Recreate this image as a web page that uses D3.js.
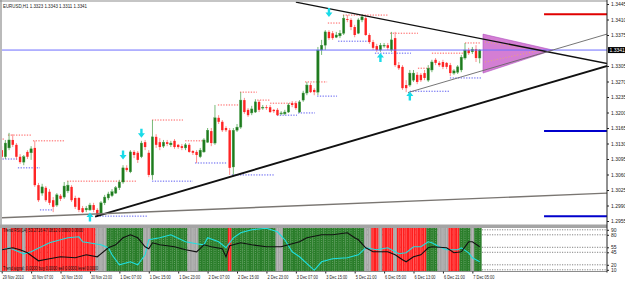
<!DOCTYPE html>
<html>
<head>
<meta charset="utf-8">
<script src="https://cdn.jsdelivr.net/npm/d3@7/dist/d3.min.js"></script>
<style>
  body { margin: 0; background: #fff; }
  svg { display: block; font-family: "Liberation Sans", Arial, sans-serif; }
</style>
</head>
<body>
<svg id="chart" width="625" height="282"></svg>
<script>
// EURUSD H1, bar 0 = 29 Nov 2010 23:00, last bar = 7 Dec 07:00
var opens = [
  1.3115, 1.3100, 1.3120, 1.3138, 1.3127, 1.3100, 1.3088, 1.3111, 1.3109, 1.3120,
  1.3036, 1.3018, 1.3030, 1.3021, 1.3002, 1.2991, 1.3012, 1.3009, 1.3023, 1.3032,
  1.3007, 1.3007, 1.2984, 1.2980, 1.2980, 1.2991, 1.2980, 1.2973, 1.2996, 1.3007,
  1.3012, 1.3018, 1.3030, 1.3043, 1.3075, 1.3066, 1.3111, 1.3109, 1.3100, 1.3133,
  1.3109, 1.3059, 1.3145, 1.3133, 1.3124, 1.3133, 1.3127, 1.3136, 1.3127, 1.3124,
  1.3120, 1.3127, 1.3113, 1.3111, 1.3100, 1.3111, 1.3133, 1.3158, 1.3131, 1.3188,
  1.3179, 1.3165, 1.3160, 1.3077, 1.3160, 1.3167, 1.3228, 1.3206, 1.3199, 1.3201,
  1.3224, 1.3210, 1.3212, 1.3212, 1.3206, 1.3206, 1.3197, 1.3197, 1.3201, 1.3221,
  1.3221, 1.3201, 1.3228, 1.3244, 1.3262, 1.3251, 1.3246, 1.3341, 1.3352, 1.3382,
  1.3379, 1.3370, 1.3373, 1.3379, 1.3411, 1.3409, 1.3393, 1.3379, 1.3409, 1.3413,
  1.3375, 1.3359, 1.3350, 1.3341, 1.3350, 1.3352, 1.3341, 1.3368, 1.3307, 1.3303,
  1.3262, 1.3262, 1.3273, 1.3285, 1.3285, 1.3289, 1.3273, 1.3296, 1.3319, 1.3312,
  1.3314, 1.3312, 1.3307, 1.3289, 1.3291, 1.3296, 1.3323, 1.3341, 1.3337, 1.3343, 1.3323
];
var highs = [
  1.3124, 1.3138, 1.3154, 1.3151, 1.3131, 1.3106, 1.3104, 1.3115, 1.3124, 1.3136,
  1.3041, 1.3039, 1.3034, 1.3027, 1.3009, 1.3018, 1.3016, 1.3043, 1.3045, 1.3036,
  1.3012, 1.3009, 1.2989, 1.2989, 1.2996, 1.2996, 1.2984, 1.3000, 1.3014, 1.3021,
  1.3027, 1.3034, 1.3048, 1.3081, 1.3081, 1.3115, 1.3115, 1.3113, 1.3136, 1.3138,
  1.3115, 1.3183, 1.3151, 1.3142, 1.3138, 1.3138, 1.3136, 1.3140, 1.3129, 1.3129,
  1.3131, 1.3131, 1.3115, 1.3115, 1.3120, 1.3142, 1.3165, 1.3165, 1.3217, 1.3194,
  1.3183, 1.3169, 1.3165, 1.3165, 1.3174, 1.3246, 1.3233, 1.3210, 1.3215, 1.3230,
  1.3228, 1.3217, 1.3217, 1.3217, 1.3208, 1.3210, 1.3203, 1.3206, 1.3221, 1.3226,
  1.3226, 1.3228, 1.3249, 1.3269, 1.3267, 1.3255, 1.3348, 1.3364, 1.3386, 1.3386,
  1.3384, 1.3382, 1.3386, 1.3420, 1.3420, 1.3413, 1.3398, 1.3413, 1.3422, 1.3420,
  1.3379, 1.3364, 1.3355, 1.3357, 1.3357, 1.3357, 1.3382, 1.3382, 1.3314, 1.3307,
  1.3273, 1.3296, 1.3296, 1.3291, 1.3289, 1.3296, 1.3307, 1.3319, 1.3323, 1.3316,
  1.3319, 1.3314, 1.3312, 1.3298, 1.3307, 1.3330, 1.3357, 1.3346, 1.3348, 1.3352, 1.3343
];
var lows = [
  1.3093, 1.3095, 1.3115, 1.3122, 1.3093, 1.3084, 1.3081, 1.3095, 1.3093, 1.3032,
  1.2998, 1.3012, 1.2998, 1.2991, 1.2975, 1.2987, 1.3000, 1.3005, 1.3018, 1.2998,
  1.2982, 1.2975, 1.2973, 1.2975, 1.2978, 1.2975, 1.2964, 1.2971, 1.2991, 1.3002,
  1.3009, 1.3016, 1.3025, 1.3039, 1.3066, 1.3063, 1.3097, 1.3086, 1.3097, 1.3115,
  1.3054, 1.3048, 1.3120, 1.3115, 1.3120, 1.3124, 1.3122, 1.3118, 1.3118, 1.3115,
  1.3115, 1.3109, 1.3104, 1.3086, 1.3097, 1.3109, 1.3131, 1.3124, 1.3127, 1.3174,
  1.3156, 1.3156, 1.3059, 1.3059, 1.3156, 1.3163, 1.3197, 1.3190, 1.3194, 1.3199,
  1.3201, 1.3206, 1.3206, 1.3199, 1.3199, 1.3192, 1.3194, 1.3194, 1.3199, 1.3212,
  1.3206, 1.3199, 1.3224, 1.3239, 1.3244, 1.3239, 1.3239, 1.3330, 1.3341, 1.3364,
  1.3364, 1.3368, 1.3368, 1.3375, 1.3404, 1.3386, 1.3370, 1.3377, 1.3404, 1.3373,
  1.3355, 1.3341, 1.3337, 1.3337, 1.3346, 1.3341, 1.3337, 1.3303, 1.3296, 1.3251,
  1.3246, 1.3258, 1.3269, 1.3264, 1.3269, 1.3273, 1.3269, 1.3291, 1.3307, 1.3303,
  1.3298, 1.3298, 1.3282, 1.3285, 1.3287, 1.3291, 1.3319, 1.3330, 1.3332, 1.3314, 1.3311
];
var closes = [
  1.3100, 1.3131, 1.3138, 1.3127, 1.3100, 1.3088, 1.3100, 1.3100, 1.3118, 1.3036,
  1.3002, 1.3032, 1.3002, 1.2996, 1.2987, 1.3014, 1.3005, 1.3034, 1.3036, 1.3002,
  1.2987, 1.2980, 1.2975, 1.2984, 1.2991, 1.2980, 1.2969, 1.2996, 1.3009, 1.3016,
  1.3021, 1.3030, 1.3043, 1.3075, 1.3070, 1.3111, 1.3104, 1.3093, 1.3131, 1.3122,
  1.3059, 1.3145, 1.3127, 1.3122, 1.3133, 1.3129, 1.3131, 1.3122, 1.3122, 1.3120,
  1.3127, 1.3111, 1.3109, 1.3104, 1.3115, 1.3138, 1.3160, 1.3131, 1.3188, 1.3179,
  1.3160, 1.3160, 1.3075, 1.3160, 1.3167, 1.3228, 1.3201, 1.3194, 1.3208, 1.3224,
  1.3206, 1.3212, 1.3210, 1.3201, 1.3203, 1.3194, 1.3199, 1.3201, 1.3217, 1.3217,
  1.3210, 1.3224, 1.3244, 1.3262, 1.3246, 1.3246, 1.3341, 1.3352, 1.3382, 1.3368,
  1.3368, 1.3375, 1.3379, 1.3413, 1.3409, 1.3393, 1.3375, 1.3409, 1.3416, 1.3375,
  1.3359, 1.3346, 1.3341, 1.3352, 1.3352, 1.3346, 1.3364, 1.3307, 1.3300, 1.3255,
  1.3255, 1.3289, 1.3289, 1.3269, 1.3273, 1.3278, 1.3300, 1.3314, 1.3312, 1.3307,
  1.3303, 1.3303, 1.3289, 1.3294, 1.3303, 1.3325, 1.3341, 1.3334, 1.3343, 1.3323, 1.3341
];

var priceTicks = [1.3445, 1.3410, 1.3375, 1.3305, 1.3270, 1.3235, 1.3200, 1.3165,
                  1.3130, 1.3095, 1.3060, 1.3025, 1.2990, 1.2955];
var bidPrice = 1.3341;
var timeLabels = ["29 Nov 2010", "30 Nov 07:00", "30 Nov 15:00", "30 Nov 23:00", "1 Dec 07:00",
  "1 Dec 15:00", "1 Dec 23:00", "2 Dec 07:00", "2 Dec 15:00", "2 Dec 23:00", "3 Dec 07:00",
  "3 Dec 15:00", "5 Dec 21:00", "6 Dec 05:00", "6 Dec 13:00", "6 Dec 21:00", "7 Dec 05:00"];
var timeLabelBars = d3.range(0, 129, 8);

// fractal resistance / support marks: [fromBar, toBar, price]
var resistLevels = [[-0.5, 0.9, 1.3140], [1.7, 8.2, 1.3149], [8.5, 17.2, 1.3136], [17.8, 36.8, 1.3045],
  [40.9, 49.3, 1.3183], [49.9, 55.3, 1.3136], [58.8, 64.3, 1.3217], [64.8, 69.4, 1.3246],
  [69.5, 73, 1.3228], [73, 80.3, 1.3221], [82.5, 88.5, 1.3269], [88.7, 92, 1.3402],
  [92.8, 105, 1.3420], [105.6, 113.2, 1.3379], [113.2, 116.5, 1.3300], [117, 126.5, 1.3334],
  [126, 130.4, 1.3357]];
var supportLevels = [[-0.5, 4.2, 1.3095], [4.4, 10.4, 1.3075], [10.4, 13.7, 1.2980],
  [25.9, 39.8, 1.2966], [40.9, 52, 1.3045], [52.6, 61.3, 1.3086], [62.6, 74.3, 1.3059],
  [74.9, 80.3, 1.3194], [80.6, 85.2, 1.3199], [85.8, 91.2, 1.3237], [91.5, 100.2, 1.3361],
  [101.5, 111.3, 1.3334], [111, 121.9, 1.3248], [121.9, 130.4, 1.3278]];

// trend lines: [bar, price] anchors
var trendLines = [
  {a: [80, 1.3449], b: [165, 1.3310], color: "#111", w: 1.3},
  {a: [25.4, 1.2965], b: [165, 1.3306], color: "#111", w: 1.9},
  {a: [-0.5, 1.2962], b: [165, 1.3018], color: "#7a7672", w: 1.4},
  {a: [110.5, 1.3245], b: [165, 1.3378], color: "#666", w: 0.9}
];
var triangle = [[130.9, 1.3377], [149.9, 1.3341], [130.9, 1.3289]];
var hLevels = [
  {from: 147.5, price: 1.3422, color: "#e00000"},
  {from: 147.5, price: 1.3158, color: "#0000cc"},
  {from: 147.5, price: 1.2966, color: "#0000cc"}
];
var arrows = [
  {bar: 24, price: 1.2964, dir: "up"}, {bar: 33, price: 1.3104, dir: "down"},
  {bar: 38, price: 1.3153, dir: "down"}, {bar: 89, price: 1.3426, dir: "down"},
  {bar: 103, price: 1.3324, dir: "up"}, {bar: 111, price: 1.3237, dir: "up"}
];

// indicator window
var trendState = ["rr", "n", "rrr", "n", "rrrrrrrrrrrrrrrrrrr", "nnn", "gggggggggg", "nn",
  "gggggggggg", "nnn", "gggggggg", "r", "gggggggggggg", "nn", "gggggggggggggggggggggg", "nn",
  "rr", "n", "rrr", "n", "rrrrrrrr", "ggg", "nnn", "rrr", "ggg", "n", "gg"].join("");
var indLevels = [90, 80, 55, 45, 20, 10];
var cyanLine = [[0,50],[2,54],[6,42],[8,46],[13,64],[18,74],[21,76],[22,66],[27,60],[29,54],
  [30,40],[32,20],[35,26],[37,20],[39,40],[40,70],[43,74],[46,80],[50,66],[53,62],[55,60],
  [56,74],[59,66],[61,54],[63,74],[65,84],[68,90],[72,93],[75,86],[77,70],[79,46],[81,36],
  [85,9],[87,26],[90,32],[94,34],[97,40],[99,54],[102,50],[105,54],[108,42],[110,44],
  [112,56],[114,56],[116,66],[117,64],[119,56],[121,50],[124,50],[125,54],[127,44],[128,34],[130,26]];
var blackLine = [[0,50],[3,54],[5,50],[7,44],[10,28],[13,32],[16,36],[20,34],[23,40],[26,36],
  [29,54],[31,60],[33,74],[35,80],[37,74],[39,56],[40,52],[41,64],[43,60],[47,56],[50,50],
  [53,46],[55,60],[57,56],[60,52],[61,36],[62,58],[65,64],[68,60],[72,56],[76,56],[78,60],
  [81,66],[83,74],[87,80],[90,80],[94,84],[96,74],[97,70],[99,54],[101,46],[105,46],[107,40],
  [109,30],[110,26],[112,36],[114,40],[116,54],[117,56],[121,54],[123,44],[125,46],[127,66],
  [128,66],[130,56]];

var svg = d3.select("#chart");
var width = 625, height = 282;
var plotLeft = 2, plotRight = 607;
var mainTop = 1.5, mainBottom = 224.5;
var indTop = 228, indBottom = 271.5;

var x = d3.scaleLinear().domain([0, 130]).range([1.7, 479.7]);
var y = d3.scaleLinear().domain([1.2955, 1.3445]).range([221, 4]);
var yInd = d3.scaleLinear().domain([10, 90]).range([269.8, 229.8]);
var step = x(1) - x(0);

var defs = svg.append("defs");
defs.append("clipPath").attr("id", "mainClip").append("rect")
  .attr("x", plotLeft).attr("y", mainTop).attr("width", plotRight - plotLeft).attr("height", mainBottom - mainTop);
defs.append("clipPath").attr("id", "indClip").append("rect")
  .attr("x", plotLeft).attr("y", indTop).attr("width", plotRight - plotLeft).attr("height", indBottom - indTop);

svg.append("rect").attr("width", width).attr("height", height).attr("fill", "#fff");

// ---------- main window ----------
var main = svg.append("g").attr("clip-path", "url(#mainClip)");

main.selectAll("line.res").data(resistLevels).join("line")
  .attr("x1", d => x(d[0])).attr("x2", d => x(d[1]))
  .attr("y1", d => y(d[2])).attr("y2", d => y(d[2]))
  .attr("stroke", "#ff5a5a").attr("stroke-width", 1).attr("stroke-dasharray", "1.3,1.4");
main.selectAll("line.sup").data(supportLevels).join("line")
  .attr("x1", d => x(d[0])).attr("x2", d => x(d[1]))
  .attr("y1", d => y(d[2])).attr("y2", d => y(d[2]))
  .attr("stroke", "#5a5af0").attr("stroke-width", 1).attr("stroke-dasharray", "1.3,1.4");

var bars = opens.map((o, i) => ({i: i, o: o, h: highs[i], l: lows[i], c: closes[i]}));
main.selectAll("line.wick").data(bars).join("line")
  .attr("x1", d => x(d.i)).attr("x2", d => x(d.i))
  .attr("y1", d => y(d.h)).attr("y2", d => y(d.l))
  .attr("stroke", d => d.c >= d.o ? "#55a855" : "#ff7070").attr("stroke-width", 0.8);
main.selectAll("rect.body").data(bars).join("rect")
  .attr("x", d => x(d.i) - 1.2).attr("width", 2.4)
  .attr("y", d => y(Math.max(d.o, d.c)))
  .attr("height", d => Math.max(0.8, Math.abs(y(d.o) - y(d.c))))
  .attr("fill", d => d.c >= d.o ? "#1e7a1e" : "#ff2424")
  .attr("stroke", d => d.c >= d.o ? "#4ea04e" : "none").attr("stroke-width", 0.4);

main.append("path")
  .attr("d", d3.line().x(d => x(d[0])).y(d => y(d[1]))(triangle) + "Z")
  .attr("fill", "#d47ed4").attr("stroke", "#b050c0").attr("stroke-width", 0.6);
main.selectAll("line.proj").data([1.3359, 1.3314]).join("line")
  .attr("x1", x(triangle[0][0]) + 2).attr("x2", x(triangle[1][0]) - 12)
  .attr("y1", d => y(d)).attr("y2", y(triangle[1][1]))
  .attr("stroke", "#f0b060").attr("stroke-width", 0.8).attr("stroke-dasharray", "1,2");

main.append("line")
  .attr("x1", plotLeft).attr("x2", plotRight).attr("y1", y(bidPrice)).attr("y2", y(bidPrice))
  .attr("stroke", "#6e6eff").attr("stroke-width", 1);

main.selectAll("line.trend").data(trendLines).join("line")
  .attr("x1", d => x(d.a[0])).attr("y1", d => y(d.a[1]))
  .attr("x2", d => x(d.b[0])).attr("y2", d => y(d.b[1]))
  .attr("stroke", d => d.color).attr("stroke-width", d => d.w);

main.selectAll("line.hlev").data(hLevels).join("line")
  .attr("x1", d => x(d.from)).attr("x2", plotRight)
  .attr("y1", d => y(d.price)).attr("y2", d => y(d.price))
  .attr("stroke", d => d.color).attr("stroke-width", 2);

var downArrow = "M-1.2,-4.5H1.2V0H3.5L0,4.5L-3.5,0H-1.2Z";
var upArrow = "M-1.2,4.5H1.2V0H3.5L0,-4.5L-3.5,0H-1.2Z";
main.selectAll("path.arrow").data(arrows).join("path")
  .attr("transform", d => "translate(" + x(d.bar) + "," + y(d.price) + ")")
  .attr("d", d => d.dir === "down" ? downArrow : upArrow)
  .attr("fill", "#19dbe8");

svg.append("text").attr("x", 3).attr("y", 7.5)
  .attr("font-size", 5).attr("fill", "#222")
  .attr("textLength", 84).attr("lengthAdjust", "spacingAndGlyphs")
  .text("EURUSD,H1  1.3323 1.3343 1.3311 1.3341");

// ---------- indicator window ----------
var ind = svg.append("g").attr("clip-path", "url(#indClip)");
ind.selectAll("line.lev").data(indLevels).join("line")
  .attr("x1", plotLeft).attr("x2", plotRight)
  .attr("y1", d => yInd(d)).attr("y2", d => yInd(d))
  .attr("stroke", "#666").attr("stroke-width", 0.8).attr("stroke-dasharray", "1.2,1.3");

var stateFill = {r: "#ff1e1e", g: "#2a7d2a", n: "#a4a4a4"};
var stateLine = {r: "#ff8c8c", g: "#b8dcb8", n: "#c8c8c8"};
var states = trendState.split("").map((s, i) => ({i: i, s: s}));
ind.selectAll("rect.col").data(states).join("rect")
  .attr("x", d => x(d.i) - step / 2).attr("width", step + 0.1)
  .attr("y", indTop).attr("height", indBottom - indTop)
  .attr("fill", d => stateFill[d.s]);
ind.selectAll("line.col").data(states).join("line")
  .attr("x1", d => x(d.i)).attr("x2", d => x(d.i))
  .attr("y1", indTop).attr("y2", indBottom)
  .attr("stroke", d => stateLine[d.s]).attr("stroke-width", d => d.s === "g" ? 0.5 : 0.6)
  .attr("stroke-dasharray", d => d.s === "g" ? "0.8,1.4" : null);

var indLine = d3.line().x(d => x(d[0])).y(d => yInd(d[1]));
ind.append("path").attr("d", indLine(cyanLine))
  .attr("fill", "none").attr("stroke", "#1ee0e0").attr("stroke-width", 1.1);
ind.append("path").attr("d", indLine(blackLine))
  .attr("fill", "none").attr("stroke", "#111").attr("stroke-width", 1.1);

ind.append("text").attr("x", 3).attr("y", 231.8).attr("font-size", 4.5).attr("fill", "#111")
  .attr("textLength", 80).attr("lengthAdjust", "spacingAndGlyphs")
  .text("Trend RSI(14) 53.2716 47.0812 0.0000 0.0000");
ind.append("text").attr("x", 3).attr("y", 269.6).attr("font-size", 4.5).attr("fill", "#111")
  .attr("textLength", 95).attr("lengthAdjust", "spacingAndGlyphs")
  .text("Trend signal: 0.0000 buy 0.0000 sell 0.0000 level 0.0000");

// ---------- frame ----------
svg.append("line").attr("x1", 0).attr("x2", plotRight).attr("y1", 1).attr("y2", 1)
  .attr("stroke", "#8c8c8c").attr("stroke-width", 1.2);
svg.append("line").attr("x1", 1).attr("x2", 1).attr("y1", 0).attr("y2", indBottom)
  .attr("stroke", "#8c8c8c").attr("stroke-width", 1.2);
svg.append("rect").attr("x", 0).attr("y", mainBottom).attr("width", plotRight)
  .attr("height", indTop - mainBottom).attr("fill", "#a4a4a4");
svg.append("line").attr("x1", 0).attr("x2", plotRight).attr("y1", indBottom).attr("y2", indBottom)
  .attr("stroke", "#8c8c8c").attr("stroke-width", 1);
svg.append("line").attr("x1", plotRight).attr("x2", plotRight).attr("y1", 0).attr("y2", indBottom + 1)
  .attr("stroke", "#222").attr("stroke-width", 1);

// ---------- axes ----------
var yAxis = svg.append("g").attr("transform", "translate(" + plotRight + ",0)")
  .call(d3.axisRight(y).tickValues(priceTicks).tickFormat(d3.format(".4f")).tickSize(2).tickPadding(2));
var indAxis = svg.append("g").attr("transform", "translate(" + plotRight + ",0)")
  .call(d3.axisRight(yInd).tickValues(indLevels).tickFormat(d3.format("d")).tickSize(2).tickPadding(2));
var xAxis = svg.append("g").attr("transform", "translate(0," + indBottom + ")")
  .call(d3.axisBottom(x).tickValues(timeLabelBars).tickFormat((d, i) => timeLabels[i]).tickSize(2).tickPadding(1.5));

[yAxis, indAxis, xAxis].forEach(function(g) {
  g.select(".domain").remove();
  g.selectAll("line").attr("stroke", "#222");
  g.selectAll("text").attr("font-size", 5).attr("fill", "#222")
    .attr("font-family", '"Liberation Sans", Arial, sans-serif');
});
xAxis.selectAll("text").attr("text-anchor", "start").attr("x", 0.5)
  .attr("textLength", 21).attr("lengthAdjust", "spacingAndGlyphs");

svg.append("rect").attr("x", plotRight + 1).attr("y", y(bidPrice) - 3)
  .attr("width", width - plotRight - 1).attr("height", 6).attr("fill", "#000");
svg.append("text").attr("x", plotRight + 2.5).attr("y", y(bidPrice) + 1.7)
  .attr("font-size", 5).attr("fill", "#fff").text(d3.format(".4f")(bidPrice));
</script>
</body>
</html>
